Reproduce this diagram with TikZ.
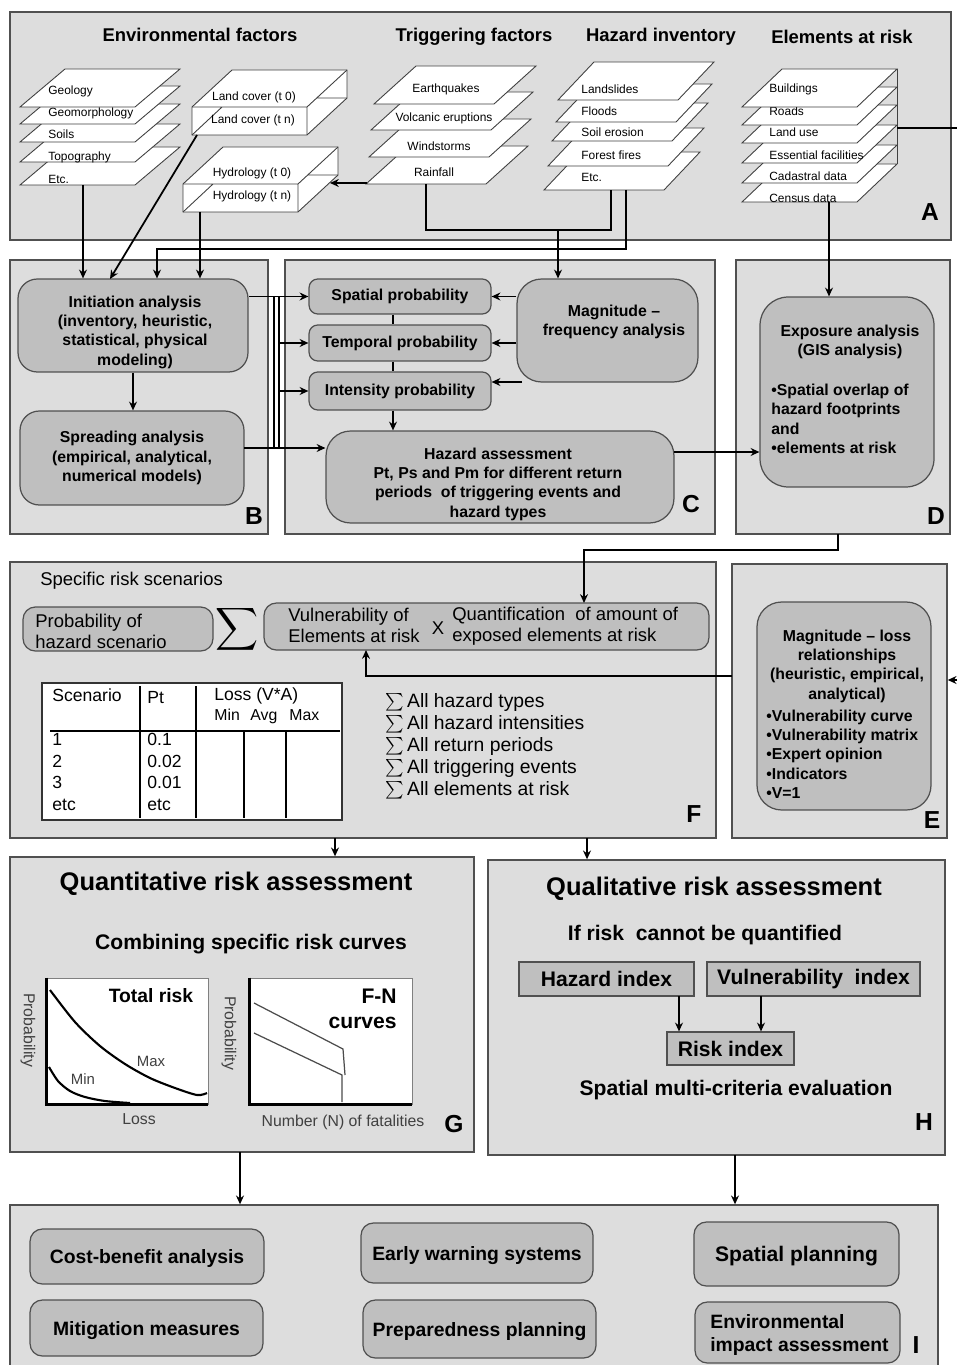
\documentclass[tikz,border=0pt]{standalone}
\usepackage{graphicx}
\usepackage{fontspec}
\setmainfont{Liberation Sans}
\usetikzlibrary{fit,arrows.meta}

\definecolor{panelgray}{RGB}{221,221,221}
\definecolor{boxgray}{RGB}{191,191,191}
\definecolor{edgegray}{RGB}{80,80,80}

\newcommand{\mapsheet}[4]{\filldraw[layer] (#1,#2) -- ++(#3,0) -- ++(#4,-38) -- ++(-#3,0) -- cycle;}
\newcommand{\mapblock}[2]{%
  \begin{scope}[shift={(#1,#2)}]
    \filldraw[layer] (0,0) -- (115,0) -- (155,-37) -- (155,-65) -- (40,-65) -- (0,-28) -- cycle;
    \draw[layer, fill=none] (0,-28) -- (115,-28) -- (155,-65) (115,-28) -- (115,0)
      (0,0) -- (30,-28) (125,-37) -- (155,-37);
  \end{scope}}

\begin{document}
\begin{tikzpicture}[x=0.02cm, y=-0.02cm, >={Stealth[length=5pt,width=4.5pt]},
    panel/.style={draw=edgegray, fill=panelgray, line width=0.8pt, inner sep=0pt},
    plab/.style={font=\fontsize{14}{14}\selectfont\bfseries, inner sep=0pt},
    ttl/.style={font=\fontsize{10.5}{12}\selectfont\bfseries, inner sep=0pt},
    layer/.style={draw=black!75, fill=white, line width=0.5pt},
    ltxt/.style={font=\fontsize{6.8}{8}\selectfont, inner sep=0pt},
    btxt/.style={font=\fontsize{9}{11}\selectfont\bfseries, inner sep=0pt},
    box/.style={btxt, draw=edgegray, fill=boxgray, line width=0.7pt, align=center},
    rbox/.style={box, rounded corners=#1},
    wh/.style 2 args={minimum width=#1cm, minimum height=#2cm},
    sbox/.style={box, font=\fontsize{12}{14}\selectfont\bfseries},
    ibox/.style={rbox=7pt, text depth=0pt, font=\fontsize{11}{13.5}\selectfont\bfseries},
    ftxt/.style={font=\fontsize{10.5}{12}\selectfont, inner sep=0pt},
    ttxt/.style={font=\fontsize{10}{12}\selectfont, inner sep=0pt, anchor=base west},
    big/.style={font=\fontsize{14.5}{16}\selectfont\bfseries, inner sep=0pt},
    mid/.style={font=\fontsize{12}{14}\selectfont\bfseries, inner sep=0pt},
    axis/.style={font=\fontsize{9}{11}\selectfont, text=black!75, inner sep=0pt},
    chart/.style={draw=black!50, fill=white, inner sep=0pt},
    conn/.style={line width=1pt}]
    \useasboundingbox (0,0) rectangle (957,1365);
    \clip (0,0) rectangle (957,1365);

    \node[panel, fit={(10,12) (951,240)}] (pA) {};
    \node[panel, fit={(10,260) (268,534)}] (pB) {};
    \node[panel, fit={(285,260) (715,534)}] (pC) {};
    \node[panel, fit={(736,260) (950,534)}] (pD) {};
    \node[panel, fit={(10,562) (716,838)}] (pF) {};
    \node[panel, fit={(732,564) (947,838)}] (pE) {};
    \node[panel, fit={(10,857) (474,1152)}] (pG) {};
    \node[panel, fit={(488,860) (945,1155)}] (pH) {};
    \node[panel, fit={(10,1205) (938,1375)}] (pI) {};
    \foreach \l/\x/\y in {A/930/212, B/254/516, C/691/504, D/936/516, F/694/814, E/932/820, G/454/1124, H/924/1122, I/916/1345}
        \node[plab] (lab\l) at (\x,\y) {\l};

    \node[ttl] (envT) at (200,35) {Environmental factors};
    \node[ttl] (trgT) at (474,37) {Triggering factors};
    \node[ttl] (hazT) at (661,37) {Hazard inventory};
    \node[ttl] (elmT) at (842,37) {Elements at risk};

    \foreach \b/\ty/\t [count=\i] in {185/179/Etc., 162/157/Topography, 142/134/Soils, 124/113/Geomorphology, 107/91/Geology}{
        \mapsheet{20}{\b}{115}{45}
        \node[ltxt, anchor=west] (env\i) at (48,\ty) {\t};
    }
    \mapblock{192}{135}
    \node[ltxt] (lc0) at (254,97) {Land cover (t 0)};
    \node[ltxt] (lcn) at (253,120) {Land cover (t n)};
    \mapblock{183}{212}
    \node[ltxt] (hy0) at (252,173) {Hydrology (t 0)};
    \node[ltxt] (hyn) at (252,196) {Hydrology (t n)};

    \foreach \x/\b/\cx/\ty/\t [count=\i] in {366/184/434/172/Rainfall, 369/157/439/146/Windstorms, 371/130/444/118/Volcanic eruptions, 374/104/446/89/Earthquakes}{
        \mapsheet{\x}{\b}{120}{42}
        \node[ltxt] (trg\i) at (\cx,\ty) {\t};
    }
    \foreach \x/\b/\ty/\t [count=\i] in {544/190/177/Etc., 548/166/155/Forest fires, 552/141/132/Soil erosion, 556/122/111/Floods, 558/100/89/Landslides}{
        \mapsheet{\x}{\b}{120}{36}
        \node[ltxt, anchor=west] (haz\i) at (581,\ty) {\t};
    }
    \foreach \b/\ty/\t [count=\i] in {202/198/Census data, 183/176/Cadastral data, 163/155/Essential facilities, 143/132/Land use, 125/111/Roads, 107/89/Buildings}{
        \mapsheet{742}{\b}{115}{40}
        \node[ltxt, anchor=west] (elm\i) at (769,\ty) {\t};
    }
    \draw[layer] (897,69) -- (897,164);

    \node[rbox=11pt, wh={4.6}{1.86}] (init) at (133,325.5) {};
    \node[btxt, align=center] (initT) at (135,332) {Initiation analysis\\(inventory, heuristic,\\statistical, physical\\modeling)};
    \node[rbox=11pt, wh={4.48}{1.88}] (spread) at (132,458) {Spreading analysis\\(empirical, analytical,\\numerical models)};
    \node[rbox=5pt, wh={3.64}{0.7}] (spat) at (400,296.5) {Spatial probability};
    \node[rbox=5pt, wh={3.64}{0.72}] (temp) at (400,343) {Temporal probability};
    \node[rbox=5pt, wh={3.64}{0.76}] (inten) at (400,391) {Intensity probability};
    \node[rbox=14pt, wh={3.62}{2.06}] (magn) at (607.5,330.5) {};
    \node[btxt, align=center] (magnT) at (614,322) {Magnitude --\\frequency analysis};
    \node[rbox=14pt, wh={6.96}{1.84}] (hass) at (500,477) {};
    \node[btxt, align=center] (hassT) at (498,484) {Hazard assessment\\Pt, Ps and Pm for different return\\periods \ of triggering events and\\hazard types};
    \node[rbox=16pt, wh={3.48}{3.8}] (expo) at (847,392) {};
    \node[btxt, align=center] (expoT) at (850,342) {Exposure analysis\\(GIS analysis)};
    \node[btxt, align=left, anchor=west] (expoL) at (771,419) {•Spatial overlap of\\hazard footprints\\and\\•elements at risk};

    \node[ftxt, anchor=west] (srs) at (40,581) {Specific risk scenarios};
    \node[rbox=7pt, wh={3.8}{0.88}] (prob) at (118,629) {};
    \node[ftxt, align=left, anchor=west] (probT) at (35,631) {Probability of\\hazard scenario};
    \node[inner sep=0pt] (sig) at (237,629) {\scalebox{1.7}{$\displaystyle\sum$}};
    \node[rbox=7pt, wh={8.9}{0.94}] (vuln) at (486.5,626.5) {};
    \node[ftxt, align=left, anchor=west] (vulA) at (288,625) {Vulnerability of\\Elements at risk};
    \node[ftxt] (vulX) at (438,628) {X};
    \node[ftxt, align=left, anchor=west] (vulB) at (452,626) {Quantification \ of amount of\\exposed elements at risk};

    \filldraw[fill=white, draw=black!80, line width=0.8pt] (42,683) rectangle (342,820);
    \draw[line width=1.5pt] (50,731) -- (340,731);
    \draw[line width=1pt] (140,686) -- (140,818) (196,686) -- (196,818) (244,731) -- (244,818) (286,731) -- (286,818);
    \node[ttxt] (thS) at (52,701) {Scenario};
    \node[ttxt] (thP) at (147,703) {Pt};
    \node[ttxt] (thL) at (214,700) {Loss (V*A)};
    \node[ttxt, font=\fontsize{9}{11}\selectfont] (thMin) at (214,720) {Min};
    \node[ttxt, font=\fontsize{9}{11}\selectfont] (thAvg) at (250,720) {Avg};
    \node[ttxt, font=\fontsize{9}{11}\selectfont] (thMax) at (289,720) {Max};
    \foreach \s/\p [count=\i] in {1/0.1, 2/0.02, 3/0.01, etc/etc}{
        \node[ttxt] (ts\i) at (52,724+21.5*\i) {\s};
        \node[ttxt] (tp\i) at (147,724+21.5*\i) {\p};
    }
    \foreach \t [count=\i] in {All hazard types, All hazard intensities, All return periods, All triggering events, All elements at risk}
        \node[ftxt, font=\fontsize{11}{13}\selectfont, anchor=base west] (sum\i) at (385,685+22*\i) {$\sum$\,\t};

    \node[rbox=14pt, wh={3.48}{4.16}] (magloss) at (844,706) {};
    \node[btxt, align=center] (mlT) at (847,666) {Magnitude -- loss\\relationships\\(heuristic, empirical,\\analytical)};
    \node[btxt, align=left, anchor=west] (mlL) at (766,754) {•Vulnerability curve\\•Vulnerability matrix\\•Expert opinion\\•Indicators\\•V=1};

    \node[big] (qnt) at (236,884) {Quantitative risk assessment};
    \node[mid] (comb) at (251,944) {Combining specific risk curves};
    \node[chart, fit={(47,978) (208,1104)}] (tot) {};
    \draw[line width=1.6pt] (tot.north west) -- (tot.south west) -- (tot.south east);
    \draw[line width=1.2pt] plot[smooth] coordinates {(50,990) (75,1022) (100,1046) (125,1064) (150,1078) (175,1088) (197,1095) (207,1093)};
    \draw[line width=1.2pt] plot[smooth] coordinates {(49,1067) (58,1081) (70,1091) (85,1097) (105,1101) (130,1103)};
    \node[font=\fontsize{11}{13}\selectfont\bfseries, inner sep=0pt] (totT) at (151,996) {Total risk};
    \node[axis, font=\fontsize{8.5}{10}\selectfont] (mx) at (151,1061) {Max};
    \node[axis, font=\fontsize{8.5}{10}\selectfont] (mn) at (83,1079) {Min};
    \node[axis, rotate=-90] (py1) at (28,1030) {Probability};
    \node[axis] (lx1) at (139,1119) {Loss};
    \node[chart, fit={(250,978) (412,1104)}] (fn) {};
    \draw[line width=1.6pt] (fn.north west) -- (fn.south west) -- (fn.south east);
    \draw[black!70, line width=0.7pt] (254,1003) -- (343,1049) -- (345,1075);
    \draw[black!70, line width=0.7pt] (254,1033) -- (342,1075) -- (342,1102);
    \node[font=\fontsize{12}{14.5}\selectfont\bfseries, align=right, anchor=east, inner sep=0pt] (fnT) at (397,1009) {F-N\\curves};
    \node[axis, rotate=-90] (py2) at (229,1033) {Probability};
    \node[axis] (lx2) at (343,1122) {Number (N) of fatalities};

    \node[big] (qlt) at (714,889) {Qualitative risk assessment};
    \node[mid] (ifr) at (705,935) {If risk \ cannot be quantified};
    \node[sbox, wh={3.5}{0.68}] (hidx) at (606.5,979) {Hazard index};
    \node[sbox, wh={4.26}{0.68}] (vidx) at (813.5,979) {Vulnerability \ index};
    \node[sbox, wh={2.54}{0.66}] (ridx) at (730.5,1048.5) {Risk index};
    \node[mid] (smce) at (736,1090) {Spatial multi-criteria evaluation};

    \node[ibox, wh={4.68}{1.1}] (cba) at (147,1256.5) {Cost-benefit analysis};
    \node[ibox, wh={4.66}{1.12}] (mit) at (146.5,1328) {Mitigation measures};
    \node[ibox, wh={4.64}{1.2}] (ews) at (477,1253) {Early warning systems};
    \node[ibox, wh={4.66}{1.16}] (prep) at (479.5,1329) {Preparedness planning};
    \node[ibox, font=\fontsize{12}{14}\selectfont\bfseries, wh={4.1}{1.28}] (spl) at (796.5,1254) {Spatial planning};
    \node[ibox, wh={4.1}{1.22}] (eia) at (797.5,1332.5) {};
    \node[font=\fontsize{11}{13.5}\selectfont\bfseries, align=left, anchor=west, inner sep=0pt] (eiaT) at (710,1335) {Environmental\\impact assessment};

    \coordinate (envB) at (83,185);
    \coordinate (lcB) at (197,135);
    \coordinate (lcIn) at (110,279);
    \coordinate (hyB) at (200,212);
    \coordinate (rainL) at (367,183);
    \coordinate (hyR) at (330,183);
    \coordinate (rainB) at (426,184);
    \coordinate (hazB1) at (611,190);
    \coordinate (hazB2) at (626,190);
    \coordinate (trgJ) at (558,230);
    \coordinate (bend) at (157,249);
    \coordinate (censB) at (829,202);
    \coordinate (elmR) at (897,128);
    \coordinate (edgeA) at (957,128);
    \coordinate (edgeE) at (957,680);
    \draw[conn,->] (envB) -- (envB |- init.north);
    \draw[conn,->] (lcB) -- (lcIn);
    \draw[conn,->] (hyB) -- (hyB |- init.north);
    \draw[conn,->] (rainL) -- (hyR);
    \draw[conn] (rainB) |- (trgJ) -| (hazB1);
    \draw[conn,->] (trgJ) -- (trgJ |- magn.north);
    \draw[conn,->] (hazB2) |- (bend) -- (bend |- init.north);
    \draw[conn,->] (censB) -- (censB |- expo.north);
    \draw[conn] (elmR) -- (edgeA);
    \draw[conn,->] (edgeE) -- (edgeE -| pE.east);

    \coordinate (bus1) at (274,0);
    \coordinate (bus2) at (279,0);
    \coordinate (sOut) at (244,448);
    \coordinate (cx) at (393,0);
    \coordinate (mInt) at (522,382);
    \coordinate (hOut) at (674,452);
    \draw[conn,->] (init.south) -- (init.south |- spread.north);
    \draw[conn,->] (spat.west -| init.east) -- (spat.west);
    \draw[conn] (bus1 |- spat.west) -- (bus1 |- sOut) (bus2 |- spat.west) -- (bus2 |- sOut);
    \draw[conn,->] (bus2 |- temp.west) -- (temp.west);
    \draw[conn,->] (bus2 |- inten.west) -- (inten.west);
    \draw[conn,->] (sOut) -- (sOut -| hass.west);
    \draw[conn,->] (magn.west |- spat.east) -- (spat.east);
    \draw[conn,->] (magn.west |- temp.east) -- (temp.east);
    \draw[conn,->] (mInt) -- (mInt -| inten.east);
    \draw[conn] (cx |- spat.south) -- (cx |- temp.north) (cx |- temp.south) -- (cx |- inten.north);
    \draw[conn,->] (cx |- inten.south) -- (cx |- hass.north);
    \draw[conn,->] (hOut) -- (hOut -| expo.west);

    \coordinate (dOut) at (838,534);
    \coordinate (vIn) at (584,603);
    \coordinate (eOut) at (732,676);
    \coordinate (vIn2) at (366,650);
    \draw[conn,->] (dOut) -- ++(0,16) -| (vIn);
    \draw[conn,->] (eOut) -| (vIn2);

    \coordinate (fg) at (335,838);
    \coordinate (fh) at (587,838);
    \coordinate (gi) at (240,1152);
    \coordinate (hi) at (735,1155);
    \coordinate (hA) at (679,996);
    \coordinate (vA) at (761,996);
    \draw[conn,->] (fg) -- (fg |- pG.north);
    \draw[conn,->] (fh) -- (fh |- pH.north);
    \draw[conn,->] (hA) -- (hA |- ridx.north);
    \draw[conn,->] (vA) -- (vA |- ridx.north);
    \draw[conn,->] (gi) -- (gi |- pI.north);
    \draw[conn,->] (hi) -- (hi |- pI.north);
\end{tikzpicture}
\end{document}
